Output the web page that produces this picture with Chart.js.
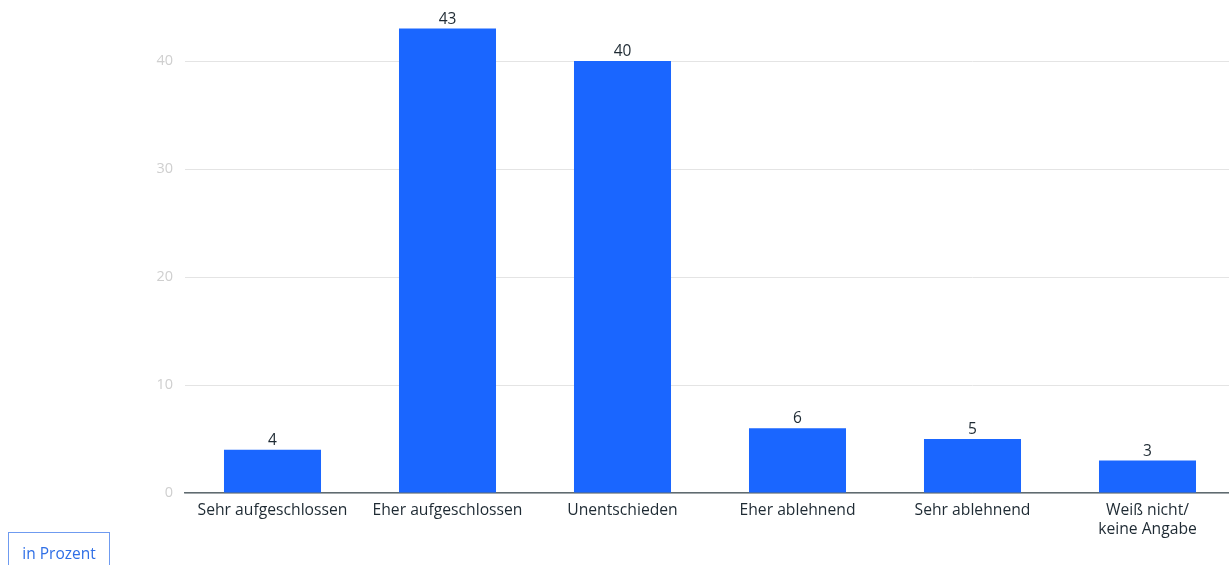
<!DOCTYPE html>
<html>
<head>
<meta charset="utf-8">
<script src="https://cdn.jsdelivr.net/npm/chart.js@4"></script>
<style>
  html, body { margin: 0; padding: 0; background: #fff; }
  #wrap { position: relative; width: 1229px; height: 565px; overflow: hidden; }
  #unit {
    position: absolute; left: 8px; top: 532px; width: 100px; height: 50px;
    border: 1px solid #6f9bf0; color: #2f6fe6;
    font: 15.5px "Open Sans", sans-serif; text-align: center; line-height: 40px;
  }
</style>
</head>
<body>
<div id="wrap">
  <canvas id="chart" width="1235" height="565"></canvas>
  <div id="unit">in Prozent</div>
</div>
<script>
// answers, in percent
const categories = [
  'Sehr aufgeschlossen',
  'Eher aufgeschlossen',
  'Unentschieden',
  'Eher ablehnend',
  'Sehr ablehnend',
  ['Weiß nicht/', 'keine Angabe'],
];
const values = [4, 43, 40, 6, 5, 3];
const yTicks = [0, 10, 20, 30, 40];

const FONT = '"Open Sans", sans-serif';

// value labels on top of bars
const barLabels = {
  id: 'barLabels',
  afterDatasetsDraw(chart) {
    const ctx = chart.ctx;
    const meta = chart.getDatasetMeta(0);
    ctx.save();
    ctx.font = '15.5px ' + FONT;
    ctx.fillStyle = '#1e2a33';
    ctx.textAlign = 'center';
    ctx.textBaseline = 'bottom';
    meta.data.forEach((bar, i) => {
      ctx.fillText(String(values[i]), bar.x, bar.y - 1.5);
    });
    ctx.restore();
  }
};

new Chart(document.getElementById('chart'), {
  type: 'bar',
  data: {
    labels: categories,
    datasets: [{
      data: values,
      backgroundColor: '#1a66ff',
      categoryPercentage: 0.8,
      barPercentage: 0.693,
    }]
  },
  options: {
    responsive: false,
    animation: false,
    layout: { padding: { top: 7, right: 0, bottom: 0, left: 0 } },
    plugins: { legend: { display: false }, tooltip: { enabled: false } },
    scales: {
      x: {
        grid: { display: false },
        border: { display: true, color: '#5f6b70', width: 1.5 },
        ticks: {
          color: '#1e2a33',
          font: { family: FONT, size: 15.7 },
          padding: 0,
          maxRotation: 0,
          autoSkip: false,
        },
        afterFit(scale) { scale.height = 72; }
      },
      y: {
        min: 0,
        max: 45,
        afterBuildTicks(scale) {
          scale.ticks = yTicks.map(v => ({ value: v }));
        },
        grid: { color: '#e4e4e4', lineWidth: 1, drawTicks: false },
        border: { display: false },
        ticks: {
          color: '#cfcfcf',
          font: { family: FONT, size: 14.5 },
          padding: 12,
        },
        afterFit(scale) {
          scale.width = 185;
          scale.paddingTop = 0;
          scale.paddingBottom = 0;
        }
      }
    }
  },
  plugins: [barLabels]
});
</script>
</body>
</html>
